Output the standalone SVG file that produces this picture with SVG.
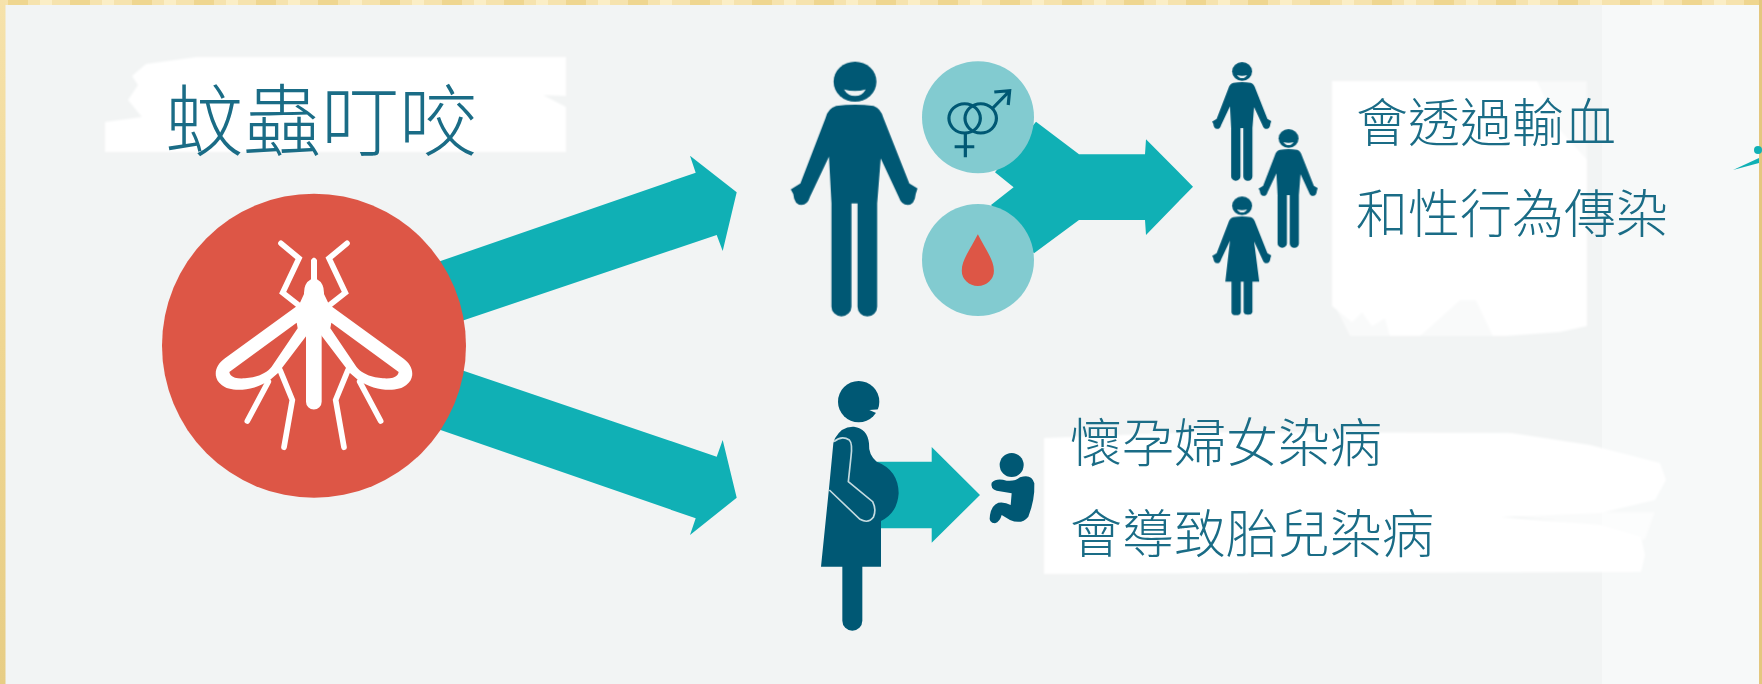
<svg xmlns="http://www.w3.org/2000/svg" width="1762" height="684" viewBox="0 0 1762 684">
<style>
.teal{fill:#10b0b5}
.dark{fill:#005874}
.lt{fill:#82cbd0}
.red{fill:#dd5646}
.wht{fill:#fff}
.brush{fill:#fff}
.smile{fill:#eef3f4}
.line{fill:none;stroke:#005874;stroke-width:9;stroke-linecap:butt}
.mq{fill:none;stroke:#fff;stroke-width:17;stroke-linecap:round;stroke-linejoin:miter}
text{font-family:"Noto Sans CJK TC","Noto Sans CJK SC",sans-serif;font-weight:300;fill:#1a6c86}
.big{font-size:78px}
.lbl{font-size:52px}
</style>
<defs>
<filter id="soft" x="-5%" y="-5%" width="110%" height="110%"><feGaussianBlur stdDeviation="1.2"/></filter>
<linearGradient id="gold" x1="0" y1="0" x2="0" y2="1">
<stop offset="0" stop-color="#f6e2ab"/><stop offset=".5" stop-color="#efd692"/><stop offset="1" stop-color="#e7cd85"/>
</linearGradient>
<pattern id="goldTop" width="62" height="6" patternUnits="userSpaceOnUse">
<rect width="62" height="6" fill="#f6e3ae"/><rect x="8" width="20" height="6" fill="#efd690"/><rect x="40" width="12" height="6" fill="#fbeec6"/>
</pattern>
<path id="manBody" d="M185,198Q238,190 290,198Q310,205 318,235L390,430L413,445L408,462Q405,495 385,495Q368,495 360,470L310,355L300,490V800A27,29 0 0 1 245,800V490H228V800A28,29 0 0 1 172,800V490L165,350L112,470Q105,495 88,495Q68,495 65,462L58,448L85,430L155,235Q162,205 185,198Z"/>
<path id="womanBody" d="M185,198Q238,190 290,198Q310,205 318,235L390,430L413,445L408,462Q405,495 385,495Q368,495 360,470L310,355L341,614H300V810A27,20 0 0 1 247,810V614H230V810A28,20 0 0 1 174,810V614H137L165,350L112,470Q105,495 88,495Q68,495 65,462L58,448L85,430L155,235Q162,205 185,198Z"/>
<g id="faceG"><circle class="dark" cx="238" cy="125" r="60"/><path class="smile" d="M207,148Q238,158 268,148Q258,168 238,168Q218,168 207,148Z"/></g>
</defs>
<rect id="bg" width="1762" height="684" fill="#f2f4f4"/>
<rect x="1602" y="5" width="157" height="679" fill="#f7f9f9"/>
<rect width="1762" height="5" fill="url(#goldTop)"/>
<rect width="5.500" height="684" fill="url(#gold)"/>
<rect x="1759" width="3" height="684" fill="#e4c77e"/>

<g id="brushes" filter="url(#soft)">
<path class="brush" d="M197,57H566V96L543,95L566,107V152H105V122L142,117L128,100L138,85L132,76L146,64Z"/>
<path class="brush" d="M1332,81H1537L1560,130L1587,160V326L1560,332L1505,336H1493L1476,300L1460,300L1420,336H1390L1385,318L1372,326L1362,312L1352,322L1332,306Z"/>
<path class="brush" opacity="0.5" d="M1537,81H1587V170L1560,140Z"/>
<path class="brush" opacity="0.55" d="M1332,300H1500V336H1350Z"/>
<path class="brush" d="M1044,438L1200,432L1511,433L1590,445L1660,463L1666,480L1655,500L1600,513L1500,517L1600,525L1641,537L1645,555L1641,572L1250,573L1044,574Z"/>
<path class="brush" opacity="0.6" d="M1480,512H1655L1645,540L1590,525Z"/>
</g>

<g id="connectors">
<polygon class="teal" points="400,275 695.700,172.700 690,155.700 736.700,192.300 722.700,251 716.700,235 420,335"/>
<polygon class="teal" points="420,356 716.700,456.700 722.700,440 736.700,497.700 690,535 695.700,518.300 400,416"/>
<polygon class="teal" points="1036,121.700 1079,154.300 1145,154.300 1146,139.300 1193,186.700 1146,235 1145,220 1079,220 1034,253.300 991,205 1013.600,187.300 995,172.300"/>
<polygon class="teal" points="870,461.700 931.700,461.700 931.700,447 980,495 931.700,542.700 931.700,528.300 870,528.300"/>
<path class="teal" d="M1733,170L1759,158V163Z"/>
<circle class="teal" cx="1758" cy="150" r="4"/>
</g>

<g id="mosquito">
<circle class="red" cx="314" cy="345.700" r="152"/>
<g transform="translate(130,170) scale(0.33333)">
<g id="mqHalf">
<path class="wht" fill-rule="evenodd" d="M505,405L285,565C252,588 248,625 275,645C300,667 370,665 420,630L445,608L535,490L545,420ZM500,458L298,606C300,622 320,627 345,625C380,622 410,610 425,590L503,475Z"/>
<polyline class="mq" points="415,635 352,753"/>
<polyline class="mq" points="450,600 487,690 462,832"/>
<polyline class="mq" points="505,405 458,368 507,265 453,220"/>
</g>
<use href="#mqHalf" transform="translate(1104,0) scale(-1,1)"/>
<path class="wht" d="M543,270Q552,255 561,270V328Q583,340 582,372L605,420L575,490V695A23,23 0 0 1 528,695V490L500,420L522,372Q521,340 543,328Z"/>
</g>
</g>

<g id="man" transform="translate(770,40) scale(0.35714,0.33333)">
<use href="#faceG"/><use href="#manBody" class="dark"/>
</g>

<g id="sex">
<circle class="lt" cx="978" cy="117.300" r="56"/>
<g transform="translate(770,40) scale(0.35714,0.33333)">
<circle class="line" cx="545" cy="235" r="44"/>
<circle class="line" cx="590" cy="235" r="44"/>
<path class="line" d="M547,279V352M517,320H572M622,206L668,156M628,156L671,152L667,195"/>
</g>
</g>
<g id="blood">
<circle class="lt" cx="978" cy="260" r="56"/>
<path class="red" transform="translate(770,40) scale(0.35714,0.33333)" d="M582,583C560,630 537,660 537,692A45,46 0 0 0 627,692C627,660 604,630 582,583Z"/>
</g>

<g id="people" transform="translate(770,40) scale(0.35714,0.33333)">
<g id="person1" transform="translate(1211,36) scale(0.466)"><use href="#faceG"/><use href="#manBody" class="dark"/></g>
<g id="person2" transform="translate(1341,237) scale(0.466)"><use href="#faceG"/><use href="#manBody" class="dark"/></g>
<g id="person3" transform="translate(1211,439) scale(0.466)"><use href="#faceG"/><use href="#womanBody" class="dark"/></g>
</g>

<g id="pregnant" transform="translate(780,360) scale(0.33333)">
<circle class="dark" cx="236" cy="125" r="62"/>
<path d="M268,150L300,148L290,160Z" fill="#f2f4f4"/>
<path class="dark" d="M165,235Q185,198 222,200Q262,205 267,250Q265,285 290,305Q355,330 356,400Q352,460 303,483V620H123L148,375L160,250Z"/>
<path class="dark" d="M187,615H247V782A30,30 0 0 1 187,782Z"/>
<path d="M162,245Q185,225 208,240Q218,250 213,290L205,365L278,425Q290,450 280,472Q265,492 240,478L148,390" fill="none" stroke="#c4dbe0" stroke-width="5"/>
</g>

<g id="baby" transform="translate(780,360) scale(0.33333)">
<circle class="dark" cx="695" cy="315" r="36"/>
<path class="dark" d="M635,368Q650,352 680,362Q705,365 720,352Q755,340 763,370Q765,420 745,470Q725,495 690,480L665,465Q660,485 645,490Q625,490 630,465Q635,435 655,428Q675,425 692,435L695,400L650,392Q630,385 635,368Z"/>
</g>

<g id="labels">
<text class="big" x="165" y="150">蚊蟲叮咬</text>
<text class="lbl" x="1356" y="142">會透過輸血</text>
<text class="lbl" x="1356" y="233">和性行為傳染</text>
<text class="lbl" x="1070" y="462">懷孕婦女染病</text>
<text class="lbl" x="1070" y="553">會導致胎兒染病</text>
</g>
</svg>
